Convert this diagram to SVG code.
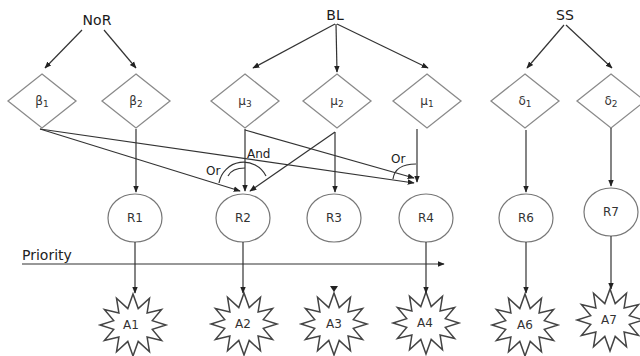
<svg xmlns="http://www.w3.org/2000/svg" xmlns:xlink="http://www.w3.org/1999/xlink" width="640" height="356" viewBox="0 0 640 356">
<style>
.hdr{font-family:"DejaVu Sans",Verdana,sans-serif;font-size:14px;fill:#1a1a1a;text-anchor:middle}
.lbl{font-family:"DejaVu Sans",Verdana,sans-serif;font-size:12px;fill:#333;text-anchor:middle}
.sub{font-size:9px}
.dia{fill:#fff;stroke:#8a8a8a;stroke-width:1.3}
.cir{fill:#fff;stroke:#777;stroke-width:1.2}
.star{fill:#fff;stroke:#444;stroke-width:1.5;stroke-linejoin:miter}
.con{fill:none;stroke:#333;stroke-width:1.2}
.arr{marker-end:url(#ah)}
.txt{font-family:"DejaVu Sans",Verdana,sans-serif;font-size:12px;fill:#222}
</style>
<defs>
<marker id="ah" viewBox="0 0 10 10" refX="9" refY="5" markerWidth="7" markerHeight="7" markerUnits="userSpaceOnUse" orient="auto">
<path d="M0,1 L10,5 L0,9 z" fill="#222"/>
</marker>
<polygon id="star" class="star" points="0,-31 5.2,-16.4 16.5,-26.8 14.1,-12 28.6,-15.5 19.3,-4.4 33,0 19.3,4.4 28.6,15.5 14.1,12 16.5,26.8 5.2,16.4 0,31 -5.2,16.4 -16.5,26.8 -14.1,12 -28.6,15.5 -19.3,4.4 -33,0 -19.3,-4.4 -28.6,-15.5 -14.1,-12 -16.5,-26.8 -5.2,-16.4"/>
</defs>

<g id="NoR"><text class="hdr" x="97" y="25">NoR</text></g>
<g id="BL"><text class="hdr" x="335" y="20">BL</text></g>
<g id="SS"><text class="hdr" x="565" y="20">SS</text></g>

<g id="beta1"><polygon class="dia" points="42,74 76,101 42,128 8,101"/><text class="lbl" x="42" y="105">β<tspan class="sub" dy="2">1</tspan></text></g>
<g id="beta2"><polygon class="dia" points="136,74 170,101 136,128 102,101"/><text class="lbl" x="136" y="105">β<tspan class="sub" dy="2">2</tspan></text></g>
<g id="mu3"><polygon class="dia" points="245,74 279,101 245,128 211,101"/><text class="lbl" x="245" y="105">μ<tspan class="sub" dy="2">3</tspan></text></g>
<g id="mu2"><polygon class="dia" points="337,74 371,101 337,128 303,101"/><text class="lbl" x="337" y="105">μ<tspan class="sub" dy="2">2</tspan></text></g>
<g id="mu1"><polygon class="dia" points="427,74 461,101 427,128 393,101"/><text class="lbl" x="427" y="105">μ<tspan class="sub" dy="2">1</tspan></text></g>
<g id="delta1"><polygon class="dia" points="525,74 559,101 525,128 491,101"/><text class="lbl" x="525" y="105">δ<tspan class="sub" dy="2">1</tspan></text></g>
<g id="delta2"><polygon class="dia" points="611,74 645,101 611,128 577,101"/><text class="lbl" x="611" y="105">δ<tspan class="sub" dy="2">2</tspan></text></g>

<g id="R1"><ellipse class="cir" cx="135" cy="218" rx="27" ry="24"/><text class="lbl" x="135" y="222">R1</text></g>
<g id="R2"><ellipse class="cir" cx="243" cy="218" rx="27" ry="24"/><text class="lbl" x="243" y="222">R2</text></g>
<g id="R3"><ellipse class="cir" cx="334" cy="218" rx="27" ry="24"/><text class="lbl" x="334" y="222">R3</text></g>
<g id="R4"><ellipse class="cir" cx="426" cy="218" rx="27" ry="24"/><text class="lbl" x="426" y="222">R4</text></g>
<g id="R6"><ellipse class="cir" cx="526" cy="218" rx="27" ry="24"/><text class="lbl" x="526" y="222">R6</text></g>
<g id="R7"><ellipse class="cir" cx="611" cy="212" rx="27" ry="24"/><text class="lbl" x="611" y="216">R7</text></g>

<g id="A1"><use xlink:href="#star" x="133" y="325"/><text class="lbl" x="131" y="329">A1</text></g>
<g id="A2"><use xlink:href="#star" x="244" y="324"/><text class="lbl" x="243" y="328">A2</text></g>
<g id="A3"><use xlink:href="#star" x="334" y="324"/><text class="lbl" x="334" y="328">A3</text></g>
<g id="A4"><use xlink:href="#star" x="426" y="323"/><text class="lbl" x="425" y="327">A4</text></g>
<g id="A6"><use xlink:href="#star" x="525" y="325"/><text class="lbl" x="525" y="329">A6</text></g>
<g id="A7"><use xlink:href="#star" x="610" y="320"/><text class="lbl" x="609" y="324">A7</text></g>

<g id="connectors">
<line class="con arr" x1="82" y1="30" x2="45" y2="68"/>
<line class="con arr" x1="104" y1="30" x2="136" y2="68"/>
<line class="con arr" x1="335" y1="24" x2="253" y2="68"/>
<line class="con arr" x1="336" y1="24" x2="337" y2="72"/>
<line class="con arr" x1="337" y1="24" x2="428" y2="68"/>
<line class="con arr" x1="564" y1="25" x2="527" y2="68"/>
<line class="con arr" x1="566" y1="25" x2="612" y2="68"/>

<line class="con arr" x1="136" y1="129" x2="136" y2="192"/>
<line class="con arr" x1="40" y1="129" x2="240" y2="191"/>
<line class="con arr" x1="40" y1="129" x2="414" y2="183"/>
<line class="con arr" x1="245" y1="129" x2="245" y2="191"/>
<line class="con arr" x1="245" y1="130" x2="414" y2="178"/>
<line class="con arr" x1="335" y1="132" x2="250" y2="191"/>
<line class="con arr" x1="335" y1="132" x2="335" y2="192"/>
<line class="con arr" x1="417" y1="129" x2="417" y2="182"/>
<line class="con arr" x1="526" y1="130" x2="526" y2="192"/>
<line class="con arr" x1="611" y1="128" x2="611" y2="186"/>

<path class="con" d="M219,183 A25,25 0 0 1 266,176"/>
<path class="con" d="M228,176 Q232,168 245,168"/>
<path class="con" d="M393,179 Q395,164 416,164"/>
<text class="txt" x="206" y="175">Or</text>
<text class="txt" x="247" y="158">And</text>
<text class="txt" x="391" y="163">Or</text>

<text class="txt" x="22" y="260" style="font-size:14px">Priority</text>
<line class="con arr" x1="22" y1="264" x2="444" y2="264"/>

<line class="con arr" x1="135" y1="242" x2="135" y2="293"/>
<line class="con arr" x1="243" y1="242" x2="243" y2="293"/>
<polygon points="330,286 338,286 334,292" fill="#222"/>
<line class="con arr" x1="426" y1="242" x2="426" y2="293"/>
<line class="con arr" x1="526" y1="242" x2="526" y2="293"/>
<line class="con arr" x1="611" y1="236" x2="611" y2="289"/>
</g>
</svg>
